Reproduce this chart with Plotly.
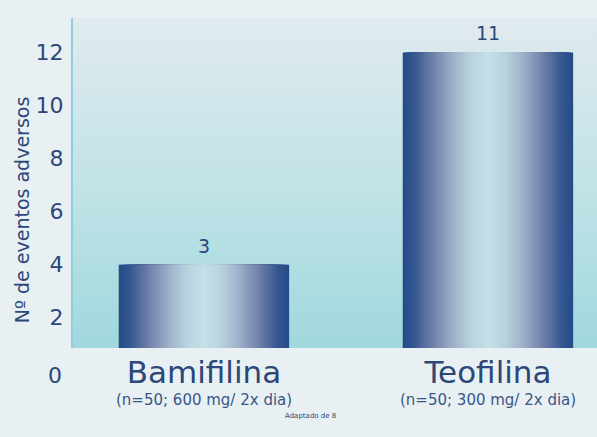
import plotly.graph_objects as go

# ---- data ----
categories = ["Bamifilina", "Teofilina"]
subtitles = ["(n=50; 600 mg/ 2x dia)", "(n=50; 300 mg/ 2x dia)"]
bar_heights = [4, 12]          # bar tops as read against the y axis
bar_labels = ["3", "11"]       # numbers printed above the bars
y_ticks = [2, 4, 6, 8, 10, 12]
y_title = "Nº de eventos adversos"
source_note = "Adaptado de 8"

# ---- style ----
NAVY = "#2c4778"
FONT = "DejaVu Sans"
X_RANGE = [-0.461, 1.384]
Y_RANGE = [0.86, 13.3]
BAR_WIDTH = 0.6
# gradient from bar edge (0) to bar centre (1)
edge_to_centre = [
    (0.00, (38, 76, 136)),
    (0.12, (52, 86, 144)),
    (0.35, (112, 128, 170)),
    (0.60, (160, 178, 202)),
    (0.80, (184, 210, 222)),
    (1.00, (194, 224, 230)),
]


def grad(t):
    for (t0, c0), (t1, c1) in zip(edge_to_centre[:-1], edge_to_centre[1:]):
        if t <= t1:
            f = (t - t0) / (t1 - t0) if t1 > t0 else 0
            return "rgb(%d,%d,%d)" % tuple(round(a + (b - a) * f) for a, b in zip(c0, c1))
    c = edge_to_centre[-1][1]
    return "rgb(%d,%d,%d)" % c


fig = go.Figure()

# plot-area background gradient on hidden base axes (drawn underneath)
fig.add_trace(go.Scatter(
    x=[0, 1, 1, 0, 0], y=[0, 0, 1, 1, 0], xaxis="x", yaxis="y",
    fill="toself", mode="none", hoverinfo="skip", showlegend=False,
    fillgradient=dict(type="vertical", start=0, stop=1,
                      colorscale=[[0, "#a0d8dd"], [0.5, "#c2e3e7"], [1, "#e0eaee"]]),
))

# bars: nested overlaid bars give a horizontal gradient
xs = list(range(len(categories)))
N = 40
for k in range(N):
    w = BAR_WIDTH * (1 - k / N)
    fig.add_trace(go.Bar(
        x=xs, y=bar_heights, width=w, xaxis="x2", yaxis="y2",
        marker=dict(color=grad(k / (N - 1)), line=dict(width=0)),
        hoverinfo="skip", showlegend=False,
    ))

annotations = []
for i, (h, lab) in enumerate(zip(bar_heights, bar_labels)):
    annotations.append(dict(x=i, y=h, xref="x2", yref="y2", text=lab, showarrow=False,
                            yanchor="bottom", yshift=6,
                            font=dict(family=FONT, size=19, color=NAVY)))
for i, s in enumerate(subtitles):
    annotations.append(dict(x=i, y=-0.158, xref="x2", yref="paper", text=s, showarrow=False,
                            yanchor="middle", font=dict(family=FONT, size=15, color="#3a5687")))
# zero label below the visible range
annotations.append(dict(x=-0.018, y=(0 - Y_RANGE[0]) / (Y_RANGE[1] - Y_RANGE[0]) - 0.015,
                        xref="paper", yref="paper", text="0", showarrow=False,
                        xanchor="right", yanchor="middle",
                        font=dict(family=FONT, size=22, color=NAVY)))
annotations.append(dict(x=-0.097, y=0.418, xref="paper", yref="paper", text=y_title,
                        showarrow=False, textangle=-90, xanchor="center", yanchor="middle",
                        font=dict(family=FONT, size=19, color=NAVY)))
annotations.append(dict(x=0.454, y=-0.224, xref="paper", yref="paper", text=source_note,
                        showarrow=False, font=dict(family=FONT, size=7, color=NAVY)))

hidden = dict(range=[0, 1], visible=False, fixedrange=True)
fig.update_layout(
    width=597, height=437,
    margin=dict(l=73, r=0, t=18, b=89),
    paper_bgcolor="#e8f0f3", plot_bgcolor="rgba(0,0,0,0)",
    barmode="overlay", showlegend=False,
    annotations=annotations,
    xaxis=hidden, yaxis=hidden,
    xaxis2=dict(overlaying="x", range=X_RANGE, tickvals=xs, ticktext=categories,
                showgrid=False, zeroline=False, showline=False, ticks="",
                ticklabelstandoff=3,
                tickfont=dict(family=FONT, size=31, color=NAVY)),
    yaxis2=dict(overlaying="y", range=Y_RANGE, tickvals=y_ticks, showgrid=False,
                zeroline=False, showline=True, linecolor="#8fcfe2", linewidth=2,
                ticks="outside", ticklen=3, tickcolor="rgba(0,0,0,0)",
                tickfont=dict(family=FONT, size=22, color=NAVY)),
)

fig.write_html("out.html")
